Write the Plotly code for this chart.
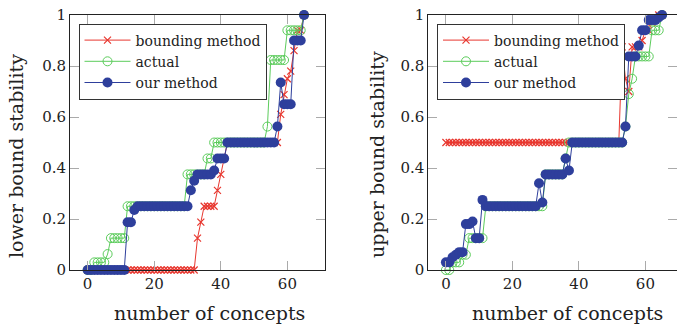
import plotly.graph_objects as go

# ---- data ----
x_idx = list(range(66))

left_bounding = [0]*33 + [0.125, 0.1875] + [0.25]*4 + [0.3125, 0.375, 0.4375] + [0.5]*16 + \
    [0.61, 0.6875, 0.75, 0.78, 0.86, 0.94, 0.94, 1.0]
left_actual = [0, 0, 0.03, 0.03, 0.03, 0.03, 0.0625] + [0.125]*5 + [0.25]*18 + [0.375]*6 + \
    [0.4375]*2 + [0.5]*16 + [0.5625] + [0.8235]*5 + [0.94]*5 + [1.0]
left_ours = [0]*12 + [0.1875, 0.1875, 0.2353] + [0.25]*16 + [0.3125, 0.35] + [0.375]*5 + [0.39] + \
    [0.4375]*3 + [0.5]*15 + [0.5625, 0.7353] + [0.65]*3 + [0.9]*3 + [1.0]

right_bounding = [0.5]*53 + [0.875, 0.75, 0.7, 0.875, 0.875, 0.875, 0.9, 0.94, 0.94, 0.97, 0.98, 1.0, 1.0]
right_actual = [0, 0, 0.03, 0.03, 0.03, 0.06, 0.06] + [0.125]*5 + [0.25]*18 + [0.375]*6 + [0.4375] + \
    [0.5]*17 + [0.5625, 0.69, 0.75] + [0.8375]*5 + [0.94]*3 + [1.0]
right_ours = [0.03, 0.03, 0.05, 0.06, 0.07, 0.07, 0.18, 0.18, 0.19, 0.125, 0.125, 0.275] + [0.25]*16 + \
    [0.34, 0.265] + [0.375]*6 + [0.4375, 0.39] + [0.5]*16 + [0.5625] + \
    [0.8375]*3 + [0.88, 0.94, 0.94, 0.98, 0.98, 0.98, 0.99, 1.0]

series_names = ["bounding method", "actual", "our method"]
x_ticks = [0, 20, 40, 60]
y_ticks = [0, 0.2, 0.4, 0.6, 0.8, 1]
y_tick_text = ["0", "0.2", "0.4", "0.6", "0.8", "1"]

RED = "#e8372f"
GREEN = "#5ccc5c"
BLUE = "#2e3f9c"
FONT = "DejaVu Serif"

fig = go.Figure()

def add_series(xa, ya, data, legend):
    b, a, o = data
    fig.add_trace(go.Scatter(x=x_idx, y=b, mode="lines+markers", name=series_names[0],
                             line=dict(color=RED, width=1),
                             marker=dict(symbol="x-thin", size=7, line=dict(color=RED, width=1.2)),
                             xaxis=xa, yaxis=ya, legend=legend, cliponaxis=False))
    fig.add_trace(go.Scatter(x=x_idx, y=a, mode="lines+markers", name=series_names[1],
                             line=dict(color=GREEN, width=1),
                             marker=dict(symbol="circle-open", size=9, color=GREEN, line=dict(color=GREEN, width=1)),
                             xaxis=xa, yaxis=ya, legend=legend, cliponaxis=False))
    fig.add_trace(go.Scatter(x=x_idx, y=o, mode="lines+markers", name=series_names[2],
                             line=dict(color=BLUE, width=1),
                             marker=dict(symbol="circle", size=10, color=BLUE),
                             xaxis=xa, yaxis=ya, legend=legend, cliponaxis=False))

add_series("x", "y", (left_bounding, left_actual, left_ours), "legend")
add_series("x2", "y2", (right_bounding, right_actual, right_ours), "legend2")

W, H = 677, 326
T, B = 15, 56
plot_h = H - T - B

def px_x(p):
    return p / W

def px_y(p):
    return 1 - (p - T) / plot_h

axis_common = dict(showline=True, linecolor="#222", linewidth=1, mirror="allticks",
                   ticks="inside", ticklen=9, tickcolor="#aaaaaa", tickwidth=1,
                   showgrid=False, zeroline=False,
                   tickfont=dict(family=FONT, size=15, color="#222"))

legend_common = dict(xanchor="left", yanchor="top", bgcolor="white", bordercolor="#333",
                     borderwidth=1, font=dict(family=FONT, size=14, color="#222"),
                     tracegroupgap=0, itemwidth=46)

fig.update_layout(
    width=W, height=H,
    margin=dict(l=0, r=0, t=T, b=B),
    plot_bgcolor="white", paper_bgcolor="white",
    showlegend=True,
    xaxis=dict(domain=[70 / W, 325 / W], range=[-5.3, 71.3], tickvals=x_ticks, anchor="y", **axis_common),
    yaxis=dict(domain=[0, 1], range=[0, 1], tickvals=y_ticks, ticktext=y_tick_text, anchor="x", **axis_common),
    xaxis2=dict(domain=[428.3 / W, 1], range=[-5.3, 69.5], tickvals=x_ticks, anchor="y2", **axis_common),
    yaxis2=dict(domain=[0, 1], range=[0, 1], tickvals=y_ticks, ticktext=y_tick_text, anchor="x2", **axis_common),
    legend=dict(x=px_x(78.5), y=px_y(23.5), **legend_common),
    legend2=dict(x=px_x(437), y=px_y(23.5), **legend_common),
    annotations=[
        dict(text="lower bound stability", x=px_x(16), y=px_y(156), xref="paper", yref="paper",
             textangle=-90, showarrow=False, xanchor="center", yanchor="middle",
             font=dict(family=FONT, size=19, color="#222")),
        dict(text="upper bound stability", x=px_x(377), y=px_y(155), xref="paper", yref="paper",
             textangle=-90, showarrow=False, xanchor="center", yanchor="middle",
             font=dict(family=FONT, size=19, color="#222")),
        dict(text="number of concepts", x=px_x(209), y=px_y(313), xref="paper", yref="paper",
             showarrow=False, xanchor="center", yanchor="middle",
             font=dict(family=FONT, size=19, color="#222")),
        dict(text="number of concepts", x=px_x(567), y=px_y(313), xref="paper", yref="paper",
             showarrow=False, xanchor="center", yanchor="middle",
             font=dict(family=FONT, size=19, color="#222")),
    ],
)

fig.write_html("out.html", config={"displayModeBar": False},
               post_script="document.body.style.margin='0';")
